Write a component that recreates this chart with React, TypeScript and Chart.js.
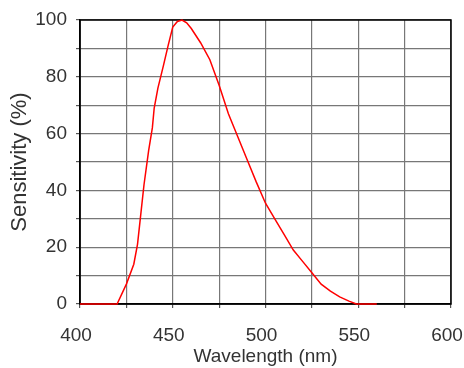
import React, { useEffect, useRef } from "react";
import { Chart, registerables } from "chart.js";

Chart.register(...registerables);

const wavelengths: number[] = [400, 420, 425, 429, 431, 432.5, 434.5, 437, 439, 440, 442, 445, 447.5, 450, 452.5, 455, 457.5, 460, 465, 470, 475, 480, 485, 490, 495, 500, 505, 510, 515, 520, 525, 530, 535, 540, 545, 549, 560];
const sensitivity: number[] = [0, 0, 7, 14, 21, 30, 42, 54, 62, 69, 76, 84, 91, 97.5, 99.5, 100, 99, 97, 92, 86, 77, 67, 59, 51, 43, 35.5, 30, 24.5, 19, 15, 11, 7, 4.5, 2.5, 1, 0, 0];
const xLabelEvery = 50;
const yLabelEvery = 20;

const FONT = "'Liberation Sans', Arial, sans-serif";

const framePlugin = {
  id: "frame",
  beforeDatasetsDraw(chart: any) {
    const { ctx, chartArea } = chart;
    ctx.save();
    ctx.strokeStyle = "#000";
    ctx.lineWidth = 1.5;
    ctx.strokeRect(chartArea.left, chartArea.top, chartArea.right - chartArea.left, chartArea.bottom - chartArea.top);
    ctx.restore();
  },
};

export default function App() {
  const ref = useRef<HTMLCanvasElement | null>(null);
  useEffect(() => {
    if (!ref.current) return;
    const chart = new Chart(ref.current, {
      type: "line",
      data: {
        datasets: [
          {
            data: wavelengths.map((w, i) => ({ x: w, y: sensitivity[i] })),
            borderColor: "#ff0000",
            borderWidth: 1.5,
            pointRadius: 0,
            tension: 0,
            fill: false,
            clip: false,
          },
        ],
      },
      options: {
        animation: false,
        responsive: true,
        maintainAspectRatio: false,
        plugins: { legend: { display: false }, tooltip: { enabled: false } },
        layout: { padding: { left: 0, top: 20, right: 13, bottom: 0 } },
        scales: {
          x: {
            type: "linear",
            min: 400,
            max: 600,
            afterFit: (s: any) => {
              s.height = 64;
              s.paddingLeft = 0;
              s.paddingRight = 0;
            },
            ticks: {
              stepSize: 25,
              autoSkip: false,
              maxRotation: 0,
              padding: 16,
              labelOffset: -4,
              color: "#333",
              font: { family: FONT, size: 19 },
              callback: (v: any) => (Number(v) % xLabelEvery === 0 ? String(v) : ""),
            },
            grid: { color: "#777", lineWidth: 1.2, tickLength: 4, tickColor: "#555" },
            border: { color: "#000", width: 1.5 },
            title: {
              display: true,
              text: "Wavelength (nm)",
              color: "#333",
              font: { family: FONT, size: 19 },
              padding: { top: 0, bottom: 0 },
            },
          },
          y: {
            min: 0,
            max: 100,
            afterFit: (s: any) => {
              s.width = 80;
              s.paddingTop = 0;
              s.paddingBottom = 0;
            },
            ticks: {
              stepSize: 10,
              autoSkip: false,
              padding: 9,
              color: "#333",
              font: { family: FONT, size: 19 },
              callback: (v: any) => (Number(v) % yLabelEvery === 0 ? String(v) : ""),
            },
            grid: { color: "#777", lineWidth: 1.2, tickLength: 4, tickColor: "#555" },
            border: { color: "#000", width: 1.5 },
            title: {
              display: true,
              text: "Sensitivity (%)",
              color: "#333",
              font: { family: FONT, size: 22 },
              padding: { top: 7, bottom: 0 },
            },
          },
        },
      },
      plugins: [framePlugin],
    });
    return () => chart.destroy();
  }, []);
  return (
    <div style={{ position: "fixed", left: 0, top: 0, width: 464, height: 368, background: "#fff" }}>
      <canvas ref={ref} />
    </div>
  );
}
